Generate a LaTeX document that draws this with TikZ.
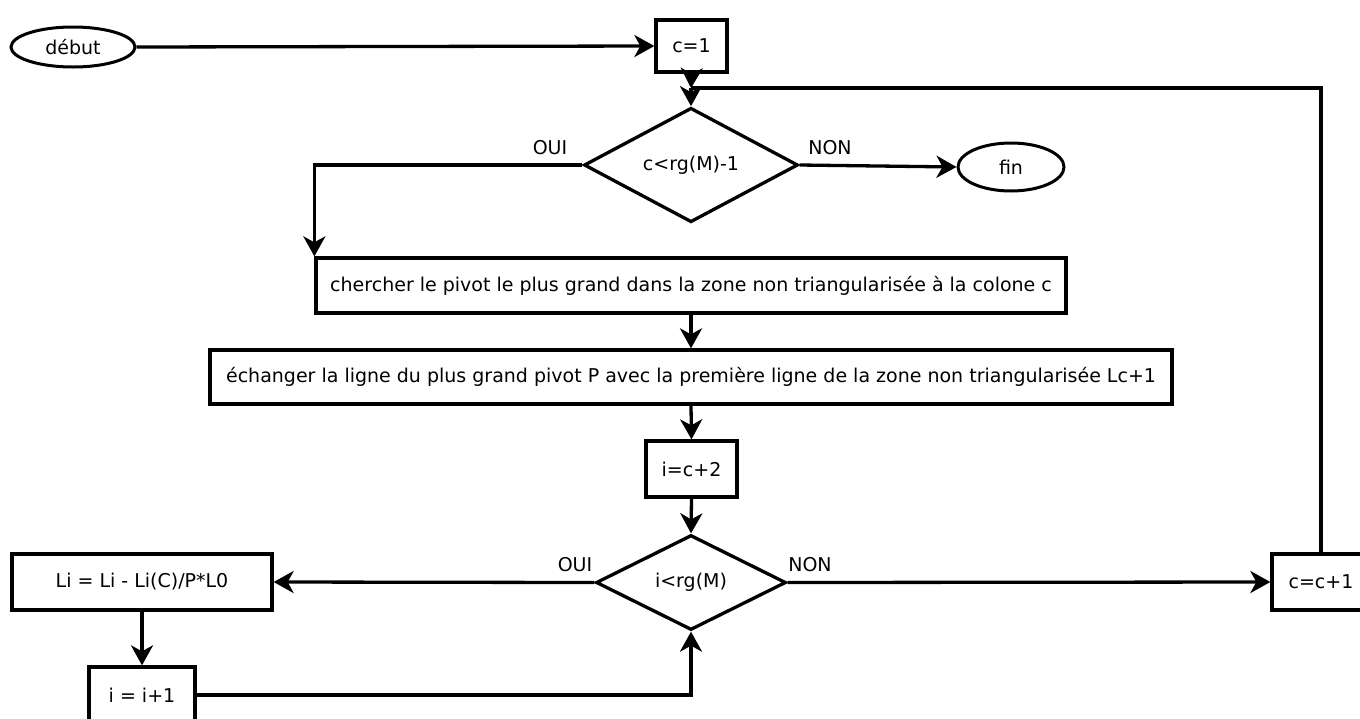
\documentclass[tikz,border=0pt]{standalone}
\usepackage{fontspec}
\setmainfont{DejaVu Sans}
\usetikzlibrary{shapes.geometric,arrows.meta}
\begin{document}
\begin{tikzpicture}[x=1pt,y=-1pt,
  every node/.style={font=\fontsize{19}{22}\selectfont, inner sep=0pt},
  box/.style={draw, line width=3.3pt, rectangle},
  term/.style={draw, line width=3pt, ellipse},
  test/.style={draw, line width=3.3pt, diamond},
  conn/.style={line width=3.3pt, -{Stealth[length=20pt,width=22pt,inset=6pt]}},
  plain/.style={line width=3.3pt},
  lab/.style={font=\fontsize{19}{22}\selectfont}]
\useasboundingbox (0,0) rectangle (1360,718);
\clip (0,0) rectangle (1360,718);
\node[term, minimum width=124pt, minimum height=40pt] (debut) at (73,47) {début};
\node[box, minimum width=71pt, minimum height=52pt] (c1) at (691.5,46) {c=1};
\node[test, minimum width=214pt, minimum height=106pt] (d1) at (691,165) {c<rg(M)-1};
\node[term, minimum width=106pt, minimum height=48pt] (fin) at (1011,167) {fin};
\node[box, minimum width=750pt, minimum height=55pt] (b1) at (691,285.5) {chercher le pivot le plus grand dans la zone non triangularisée à la colone c};
\node[box, minimum width=962pt, minimum height=54pt] (b2) at (691,377) {échanger la ligne du plus grand pivot P avec la première ligne de la zone non triangularisée Lc+1};
\node[box, minimum width=91pt, minimum height=56pt] (b3) at (691.5,469) {i=c+2};
\node[test, minimum width=190pt, minimum height=95pt] (d2) at (691,582.5) {i<rg(M)};
\node[box, minimum width=260pt, minimum height=56pt] (li) at (142,582) {Li = Li - Li(C)/P*L0};
\node[box, minimum width=106pt, minimum height=56pt] (ii) at (142,695) {i = i+1};
\node[box, minimum width=98pt, minimum height=56pt] (cc) at (1321,582) {c=c+1};
\node[lab] (oui1) at (550,148) {OUI};
\node[lab] (non1) at (830,148) {NON};
\node[lab] (oui2) at (575,565) {OUI};
\node[lab] (non2) at (810,565) {NON};
\coordinate (j) at (691,88);
\draw[conn] (debut.east) -- (c1.west);
\draw[conn] (c1.south) -- (j);
\draw[plain] (cc.north) |- (j);
\draw[conn] (j) -- (d1.north);
\draw[conn] (d1.west) -| (b1.north west);
\draw[conn] (d1.east) -- (fin.west);
\draw[conn] (b1.south) -- (b2.north);
\draw[conn] (b2.south) -- (b3.north);
\draw[conn] (b3.south) -- (d2.north);
\draw[conn] (d2.west) -- (li.east);
\draw[conn] (d2.east) -- (cc.west);
\draw[conn] (li.south) -- (ii.north);
\draw[conn] (ii.east) -| (d2.south);
\end{tikzpicture}
\end{document}
